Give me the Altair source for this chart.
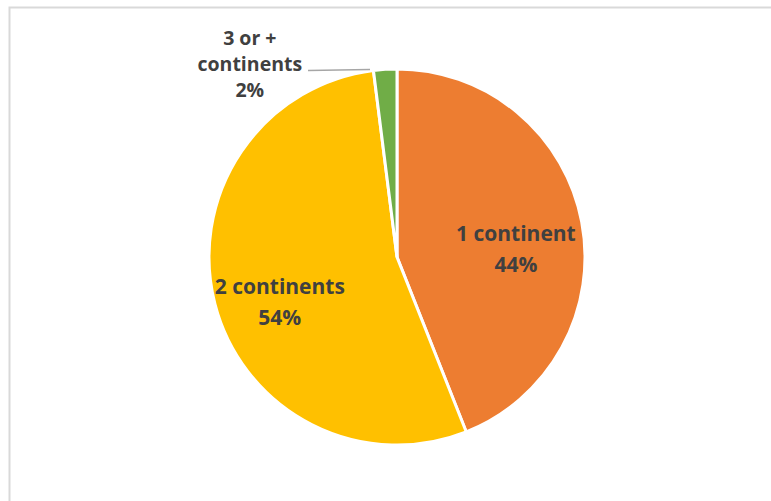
import altair as alt
import pandas as pd
import numpy as np

categories = ["1 continent", "2 continents", "3 or + continents"]
label_lines = [["1 continent", "44%"], ["2 continents", "54%"], ["3 or +", "continents", "2%"]]
values = [44, 54, 2]
colors = ["#ED7D31", "#FFC000", "#70AD47"]

df = pd.DataFrame({"category": categories, "value": values, "idx": list(range(len(values)))})
df["label"] = label_lines
total = sum(values)
cum = np.cumsum(values)
df["mid"] = (cum - np.array(values) / 2) / total * 2 * np.pi

CX, CY, R = 397, 257, 188

base = alt.Chart(df)

frame = base.mark_rect(filled=False, stroke="#D9D9D9", strokeWidth=2).encode(
    x=alt.value(9.5), y=alt.value(7.5), x2=alt.value(1200), y2=alt.value(1200)
).transform_filter("datum.idx == 0")

pie = base.mark_arc(outerRadius=R, stroke="white", strokeWidth=3).encode(
    theta=alt.Theta("value:Q", stack=True),
    order=alt.Order("idx:Q"),
    color=alt.Color("category:N", scale=alt.Scale(domain=categories, range=colors), legend=None),
    x=alt.value(CX), y=alt.value(CY),
)

font = "Open Sans"
inner = base.mark_text(font=font, fontSize=21, fontWeight="bold", color="#404040",
                       lineHeight=31, baseline="middle", align="center", dy=1).encode(
    theta=alt.Theta("mid:Q", scale=None),
    radius=alt.value(121),
    text="label",
    x=alt.value(CX), y=alt.value(CY),
).transform_filter("datum.idx < 2")

outer = base.mark_text(font=font, fontSize=19.5, fontWeight="bold", color="#404040",
                       lineHeight=26, baseline="middle", align="center", dx=-135, dy=-24).encode(
    theta=alt.Theta("mid:Q", scale=None),
    radius=alt.value(194),
    text="label",
    x=alt.value(CX), y=alt.value(CY),
).transform_filter("datum.idx == 2")

leader = base.mark_rule(color="#A6A6A6", strokeWidth=1.5).encode(
    x=alt.value(308), x2=alt.value(370), y=alt.value(70.5), y2=alt.value(69.5)
).transform_filter("datum.idx == 2")

chart = alt.layer(frame, pie, leader, inner, outer).properties(
    width=771, height=501, padding=0,
    autosize=alt.AutoSizeParams(type="none"),
).configure_view(stroke=None)

chart.save("out.html", embed_options={"renderer": "svg", "actions": False})
